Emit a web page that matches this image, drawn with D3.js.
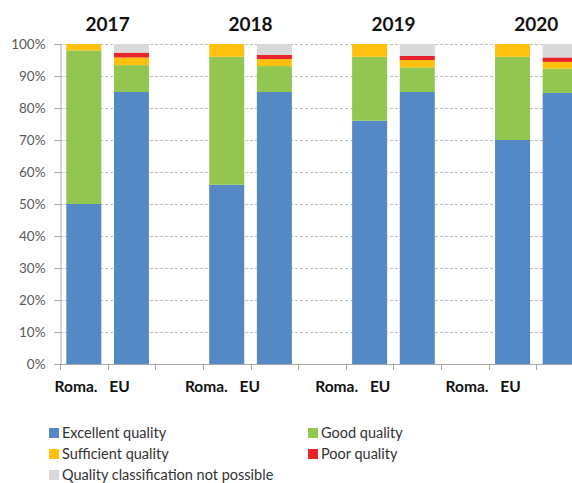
<!DOCTYPE html>
<html>
<head>
<meta charset="utf-8">
<script src="https://cdn.jsdelivr.net/npm/d3@7"></script>
<style>
  html, body { margin: 0; padding: 0; background: #fff; overflow: hidden; }
  svg { display: block; font-family: Lato, 'Noto Sans', sans-serif; }
</style>
</head>
<body>
<div id="chart"></div>
<script>
// 年份与分组
var years = ['2017', '2018', '2019', '2020'];
var groups = ['Roma.', 'EU'];
var seriesNames = ['Excellent quality', 'Good quality', 'Sufficient quality', 'Poor quality', 'Quality classification not possible'];
var seriesColors = ['#5589c6', '#93c551', '#ffc010', '#ea2229', '#d9d9d9'];
var yTicks = [0, 0.1, 0.2, 0.3, 0.4, 0.5, 0.6, 0.7, 0.8, 0.9, 1];

// 数值（百分比）
var romaExcellent = [50, 56, 76, 70];
var romaGood = [48, 40, 20, 26];
var romaSufficient = [2, 4, 4, 4];
var romaPoor = [0, 0, 0, 0];
var romaNotPossible = [0, 0, 0, 0];
var euExcellent = [85, 85, 85, 84.7];
var euGood = [8.4, 8.1, 7.7, 7.6];
var euSufficient = [2.4, 2.2, 2.3, 2.1];
var euPoor = [1.5, 1.3, 1.25, 1.4];
var euNotPossible = [2.7, 3.4, 3.75, 4.2];

var config = {
  width: 572,
  height: 483,
  left: 60,
  top: 44,
  bottom: 364,
  plotRight: 584, // 图表右端超出画布，与原图一致被裁切
  axisColor: '#a6a6a6',
  gridColor: '#bfbfbf',
  labelColor: '#595959'
};

// 组装表格
var rows = [];
years.forEach(function(y, i) {
  rows.push({ key: y + '|Roma.', year: y, group: 'Roma.', values: [romaExcellent[i], romaGood[i], romaSufficient[i], romaPoor[i], romaNotPossible[i]] });
  rows.push({ key: y + '|EU', year: y, group: 'EU', values: [euExcellent[i], euGood[i], euSufficient[i], euPoor[i], euNotPossible[i]] });
});
var slots = [];
years.forEach(function(y, i) {
  slots.push(y + '|Roma.', y + '|EU');
  if (i < years.length - 1) slots.push('gap' + i);
});
var table = rows.map(function(r) {
  var o = { key: r.key };
  seriesNames.forEach(function(s, j) { o[s] = r.values[j] / 100; });
  return o;
});
var stacked = d3.stack().keys(seriesNames)(table);

// 比例尺
var x = d3.scaleBand()
  .domain(slots)
  .range([config.left, config.plotRight])
  .paddingInner(0.265)
  .paddingOuter(0.1325);
var y = d3.scaleLinear().domain([0, 1]).range([config.bottom, config.top]);
var color = d3.scaleOrdinal().domain(seriesNames).range(seriesColors);
// 底部标签位置（原图中标签与柱子并不完全对齐）
var labelGroupX = d3.scaleLinear().domain([0, years.length - 1]).range([76, 467]);
var labelOffset = { 'Roma.': 0, 'EU': 43.5 };

var svg = d3.select('#chart').append('svg')
  .attr('width', config.width)
  .attr('height', config.height);

// 网格线
svg.append('g').selectAll('line')
  .data(yTicks.slice(1))
  .enter().append('line')
  .attr('x1', config.left)
  .attr('x2', config.plotRight)
  .attr('y1', function(d) { return Math.round(y(d)) + 0.5; })
  .attr('y2', function(d) { return Math.round(y(d)) + 0.5; })
  .attr('stroke', config.gridColor)
  .attr('stroke-dasharray', '3,2');

// 柱子
svg.append('g').selectAll('g')
  .data(stacked)
  .enter().append('g')
  .attr('fill', function(d) { return color(d.key); })
  .selectAll('rect')
  .data(function(d) { return d; })
  .enter().append('rect')
  .attr('x', function(d) { return x(d.data.key); })
  .attr('width', x.bandwidth())
  .attr('y', function(d) { return y(d[1]); })
  .attr('height', function(d) { return y(d[0]) - y(d[1]); });

// y轴
var yAxis = svg.append('g')
  .attr('transform', 'translate(' + (config.left + 0.5) + ',0)')
  .call(d3.axisLeft(y).tickValues(yTicks).tickFormat(d3.format('.0%')).tickSize(6).tickPadding(9));
yAxis.select('.domain').attr('stroke', config.axisColor);
yAxis.selectAll('.tick line').attr('stroke', config.axisColor);
yAxis.selectAll('text')
  .attr('fill', config.labelColor)
  .style('font-size', '13.5px')
  .style('font-family', 'Lato, sans-serif');

// x轴
var xAxis = svg.append('g');
xAxis.append('line')
  .attr('x1', config.left)
  .attr('x2', config.plotRight)
  .attr('y1', config.bottom + 0.5)
  .attr('y2', config.bottom + 0.5)
  .attr('stroke', config.axisColor);
xAxis.selectAll('.xtick')
  .data(slots.concat(['end']))
  .enter().append('line')
  .attr('class', 'xtick')
  .attr('x1', function(d, i) { return Math.round(config.left + i * x.step()) + 0.5; })
  .attr('x2', function(d, i) { return Math.round(config.left + i * x.step()) + 0.5; })
  .attr('y1', config.bottom)
  .attr('y2', config.bottom + 6)
  .attr('stroke', config.axisColor);

// 分类标签
svg.append('g').selectAll('text')
  .data(rows)
  .enter().append('text')
  .attr('x', function(d) { return labelGroupX(years.indexOf(d.year)) + labelOffset[d.group]; })
  .attr('y', 392)
  .attr('text-anchor', 'middle')
  .attr('font-weight', 'bold')
  .attr('font-size', '15.5px')
  .attr('fill', '#111')
  .text(function(d) { return d.group; });

// 年份标题
svg.append('g').selectAll('text')
  .data(years)
  .enter().append('text')
  .attr('x', function(d) { return x(d + '|EU') - (x.step() - x.bandwidth()) / 2; })
  .attr('y', 31)
  .attr('text-anchor', 'middle')
  .attr('font-weight', 'bold')
  .attr('font-size', '19px')
  .attr('fill', '#111')
  .text(function(d) { return d; });

// 图例
var legendPos = [[49, 428], [308, 428], [49, 449], [308, 449], [49, 470]];
var legend = svg.append('g').selectAll('g')
  .data(seriesNames)
  .enter().append('g')
  .attr('transform', function(d, i) { return 'translate(' + legendPos[i][0] + ',' + legendPos[i][1] + ')'; });
legend.append('rect')
  .attr('width', 10)
  .attr('height', 10)
  .attr('fill', function(d) { return color(d); });
legend.append('text')
  .attr('x', 13)
  .attr('y', 10)
  .attr('font-size', '14.5px')
  .attr('fill', '#333')
  .text(function(d) { return d; });
</script>
</body>
</html>
